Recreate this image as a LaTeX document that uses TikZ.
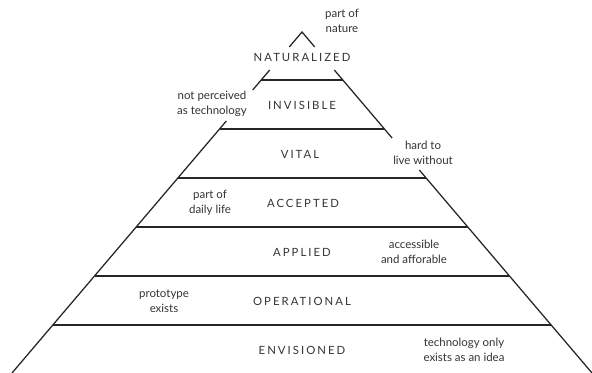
\documentclass[tikz,border=0pt]{standalone}
\usepackage{fontspec}
\setmainfont{Lato}
\newfontfamily\capsfont[LetterSpace=18]{Lato}
\begin{document}
\begin{tikzpicture}[x=0.75pt,y=-0.75pt,
  edge/.style={draw=black!85, line width=0.95pt},
  layer/.style={font=\capsfont\fontsize{8.5}{10}\selectfont, text=black!80, inner sep=0pt},
  note/.style={font=\fontsize{8.6}{11}\selectfont, text=black!80, align=center, inner sep=0pt}]
\useasboundingbox (0,0) rectangle (592,373);
% pyramid side points
\coordinate (apex) at (302,32);
\coordinate (capL) at (289.25,47);
\coordinate (capR) at (314.75,47);
\coordinate (l1) at (269.7,70);
\coordinate (l2) at (252.7,90);
\coordinate (l3) at (226.35,121);
\coordinate (l4) at (12,373);
\coordinate (r1) at (334.3,70);
\coordinate (r2) at (392.1,138);
\coordinate (r3) at (419.3,170);
\coordinate (r4) at (592,373);
\draw[edge] (capL) -- (apex) -- (capR);
\draw[edge] (l1) -- (l2);
\draw[edge] (l3) -- (l4);
\draw[edge] (r1) -- (r2);
\draw[edge] (r3) -- (r4);
% horizontal dividers
\foreach \y [count=\i] in {80,129,178,227,276,325} {
  \coordinate (hl\i) at ({302-0.85*(\y-32)},\y);
  \coordinate (hr\i) at ({302+0.85*(\y-32)},\y);
  \draw[edge] (hl\i) -- (hr\i);
}
% layer names
\node[layer] (nat) at (302,57) {NATURALIZED};
\node[layer] (inv) at (302,105) {INVISIBLE};
\node[layer] (vit) at (300,154) {VITAL};
\node[layer] (acc) at (303,203) {ACCEPTED};
\node[layer] (app) at (302,252) {APPLIED};
\node[layer] (ope) at (302,301) {OPERATIONAL};
\node[layer] (env) at (302,350) {ENVISIONED};
% notes
\node[note] (n1) at (342,21) {part of\\nature};
\node[note] (n2) at (212,104) {not perceived\\as technology};
\node[note] (n3) at (423,153) {hard to\\live without};
\node[note] (n4) at (210,203) {part of\\daily life};
\node[note] (n5) at (414,252) {accessible\\and afforable};
\node[note] (n6) at (164,301) {prototype\\exists};
\node[note] (n7) at (464,350) {technology only\\exists as an idea};
\end{tikzpicture}
\end{document}
